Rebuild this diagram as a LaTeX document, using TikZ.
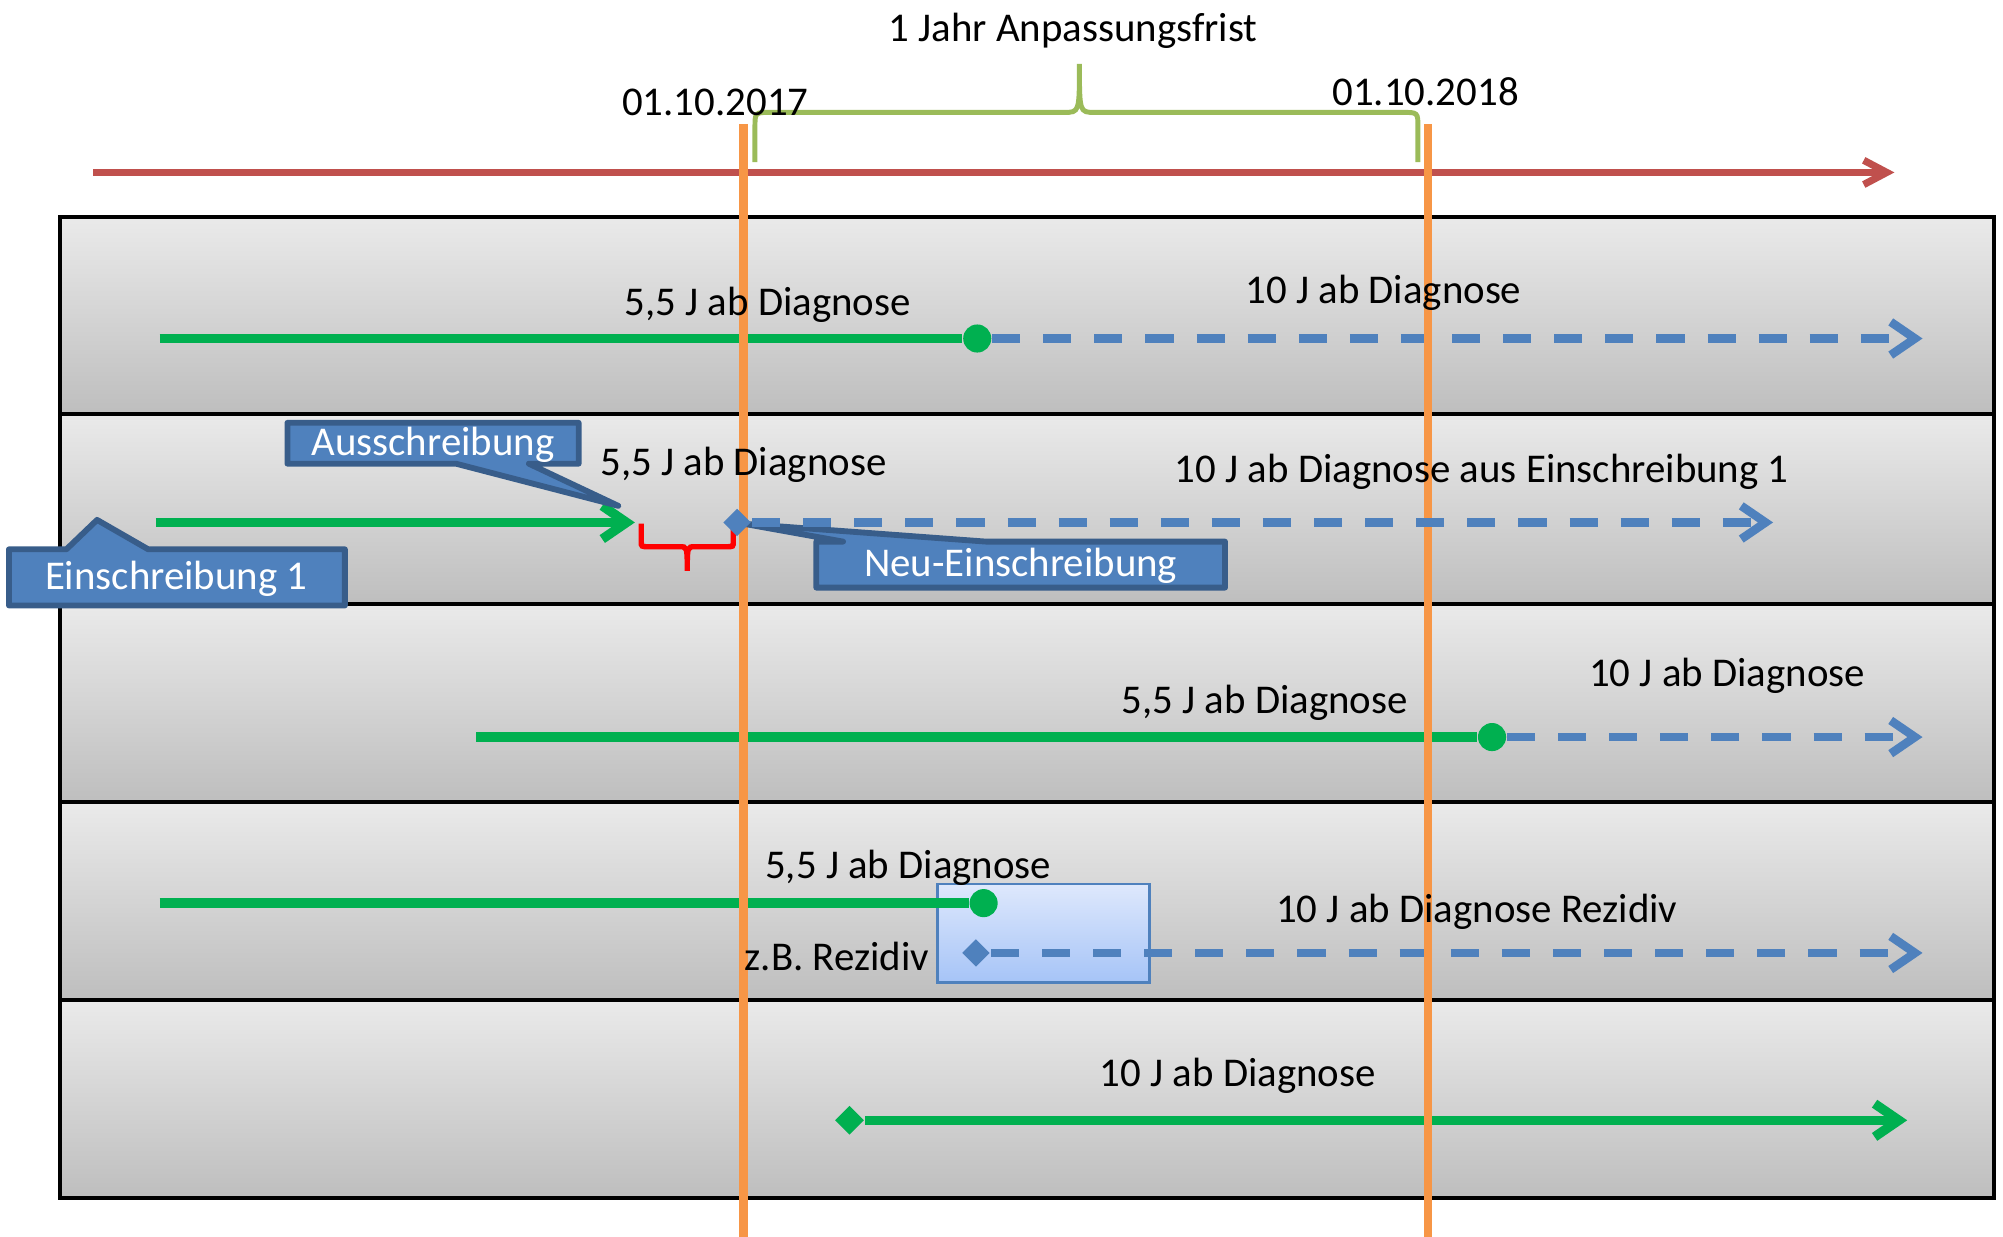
\documentclass[tikz,border=0pt]{standalone}
\usepackage{fontspec}
\setmainfont{Carlito}
\usetikzlibrary{arrows.meta,shapes.geometric}

\definecolor{grn}{RGB}{0,176,80}
\definecolor{blu}{RGB}{79,129,189}
\definecolor{bluedark}{RGB}{56,93,138}
\definecolor{orng}{RGB}{247,150,70}
\definecolor{redln}{RGB}{192,80,77}
\definecolor{lgrn}{RGB}{155,187,89}
\definecolor{bandtop}{RGB}{234,234,234}
\definecolor{bandbot}{RGB}{190,190,190}
\definecolor{rztop}{RGB}{222,232,252}
\definecolor{rzbot}{RGB}{166,196,247}

\begin{document}
\begin{tikzpicture}[x=0.1mm, y=-0.1mm, font=\fontsize{9.1pt}{11pt}\selectfont]
		\tikzset{band/.style={draw=black, line width=0.8pt, top color=bandtop, bottom color=bandbot},
			gline/.style={grn, line width=2.1pt},
			bline/.style={blu, line width=1.9pt, dash pattern=on 2.2mm off 1.8mm},
			barb/.style={-{Straight Barb[length=1.9mm, width=2.6mm]}},
			gdot/.style={circle, fill=grn, inner sep=0pt, minimum size=2.2mm},
			bdia/.style={diamond, fill=blu, inner sep=0pt, minimum size=2.2mm},
			gdia/.style={diamond, fill=grn, inner sep=0pt, minimum size=2.3mm},
			lbl/.style={inner sep=0pt},
			cobox/.style={fill=blu, draw=bluedark, line width=1.3pt, line join=round},
			cotext/.style={text=white, inner sep=0pt}};

		\useasboundingbox (0,0) rectangle (1568,967.6);

		% rows
		\foreach \t/\b in {170/324, 324/473, 473/628, 628/783, 783/938}
			\draw[band] (47,\t) rectangle (1561,\b);

		% time axis
		\coordinate (t0) at (73,135);
		\coordinate (t1) at (1483,135);
		\draw[redln, line width=1.6pt, -{Straight Barb[length=1.8mm, width=1.9mm]}] (t0) -- (t1);

		% brace over the year
		\draw[lgrn, line width=1.1pt] (591,127) -- (591,100) .. controls (591,88) .. (603,88) -- (833,88)
			.. controls (845,88) .. (845,50) .. controls (845,88) .. (857,88) -- (1098,88)
			.. controls (1110,88) .. (1110,100) -- (1110,127);

		% row 1
		\coordinate (s1) at (125,265);
		\node[gdot] (m1) at (765,265) {};
		\coordinate (e1) at (1505,265);
		\draw[gline] (s1) -- (m1);
		\draw[bline, barb] (m1) -- (e1);

		% row 2
		\coordinate (s2) at (122,409);
		\coordinate (a2) at (497,409);
		\draw[gline, barb] (s2) -- (a2);
		\draw[red, line width=1.2pt] (502,410) -- (502,424) .. controls (502,428) .. (508,428) -- (532,428)
			.. controls (538,428) .. (538,447) .. controls (538,428) .. (544,428) -- (569,428)
			.. controls (574,428) .. (574,424) -- (574,410);

		% row 3
		\coordinate (s3) at (373,577);
		\node[gdot] (m3) at (1168,577) {};
		\coordinate (e3) at (1505,577);
		\draw[gline] (s3) -- (m3);
		\draw[bline, barb] (m3) -- (e3);

		% row 4
		\node[draw=blu, line width=0.6pt, top color=rztop, bottom color=rzbot, minimum width=16.6mm, minimum height=7.7mm] (rz) at (817,730.5) {};
		\coordinate (s4) at (125,707);
		\node[gdot] (m4) at (770,707) {};
		\node[bdia] (n4) at (764,746) {};
		\coordinate (e4) at (1505,746);
		\draw[gline] (s4) -- (m4);
		\draw[bline, barb] (n4) -- (e4);

		% row 5
		\node[gdia] (n5) at (665,877) {};
		\coordinate (e5) at (1493,877);
		\draw[gline, barb] (n5) -- (e5);

		% deadlines
		\foreach \x/\n in {582/d17, 1118/d18} {
			\coordinate (\n a) at (\x,97);
			\coordinate (\n b) at (\x,968);
			\draw[orng, line width=1.9pt] (\n a) -- (\n b);
		}

		% callouts
		\draw[cobox] (225,331) -- (453,331) -- (453,363) -- (414,363) -- (484,396) -- (357,363) -- (225,363) -- cycle;
		\node[cotext] (aus) at (339,348) {Ausschreibung};
		\draw[cobox] (7,430) -- (52,430) -- (76,407) -- (116,430) -- (270,430) -- (270,474) -- (7,474) -- cycle;
		\node[cotext] (ein) at (138,453) {Einschreibung 1};
		\draw[cobox] (639,424) -- (660,424) -- (582,410) -- (772,424) -- (959,424) -- (959,460) -- (639,460) -- cycle;
		\node[cotext] (neu) at (799,443) {Neu-Einschreibung};

		% row 2, new enrolment
		\node[bdia] (n2) at (577,409) {};
		\coordinate (e2) at (1388,409);
		\draw[bline, barb] (n2) -- (e2);

		% texts
		\node[lbl] (frist) at (840,24) {1 Jahr Anpassungsfrist};
		\node[lbl] (dat17) at (560,80) {01.10.2017};
		\node[lbl] (dat18) at (1116,72) {01.10.2018};

		\node[lbl] (t1a) at (601,239) {5,5 J ab Diagnose};
		\node[lbl] (t1b) at (1083,229) {10 J ab Diagnose};
		\node[lbl] (t2a) at (582,364) {5,5 J ab Diagnose};
		\node[lbl] (t2b) at (1160,369) {10 J ab Diagnose aus Einschreibung 1};
		\node[lbl] (t3a) at (990,550) {5,5 J ab Diagnose};
		\node[lbl] (t3b) at (1352,529) {10 J ab Diagnose};
		\node[lbl] (t4a) at (711,679) {5,5 J ab Diagnose};
		\node[lbl, anchor=east] (t4c) at (728,749) {z.B. Rezidiv};
		\node[lbl] (t4b) at (1156,714) {10 J ab Diagnose Rezidiv};
		\node[lbl] (t5a) at (969,842) {10 J ab Diagnose};
	\end{tikzpicture}
\end{document}
